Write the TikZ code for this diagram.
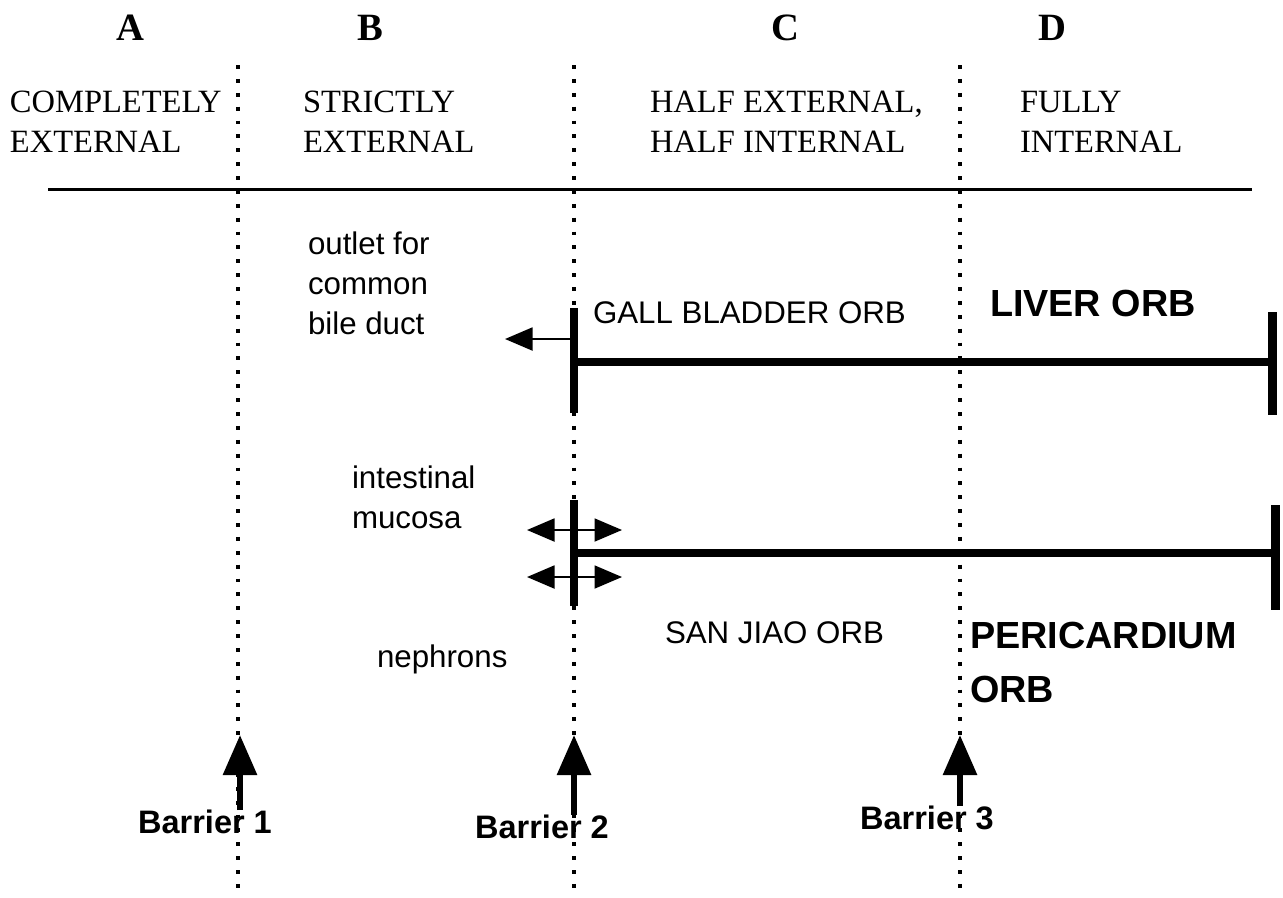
\documentclass[tikz,border=0pt]{standalone}
\usepackage{fontspec}
\setmainfont{Liberation Serif}
\setsansfont{Liberation Sans}
\usetikzlibrary{arrows.meta, positioning}

\begin{document}
\begin{tikzpicture}[
  x=0.02cm, y=-0.02cm,
  every node/.style={inner sep=0pt, outer sep=0pt},
  zone/.style={font=\fontsize{22}{26}\selectfont\bfseries},
  head/.style={align=left, anchor=north west, font=\fontsize{18.5}{22.7}\selectfont},
  note/.style={align=left, font=\sffamily\fontsize{17.8}{22.7}\selectfont},
  organ/.style={align=left, font=\sffamily\bfseries\fontsize{21.5}{30.6}\selectfont},
  barlabel/.style={font=\sffamily\bfseries\fontsize{18.5}{22}\selectfont},
  barrierline/.style={line width=2.2pt, dash pattern=on 2.2pt off 5.7pt},
  orbline/.style={line width=5.1pt},
  flow/.style={line width=1.1pt, -{Triangle[length=0.55cm, width=0.46cm]}},
  both/.style={line width=1.1pt, {Triangle[length=0.55cm, width=0.46cm]}-{Triangle[length=0.55cm, width=0.46cm]}},
  push/.style={line width=3.4pt, -{Triangle[length=0.8cm, width=0.66cm]}}
]
\useasboundingbox (0,0) rectangle (1283,897);

% Zones
\node[zone] (zA) at (130,28) {A};
\node[zone] (zB) at (370,28) {B};
\node[zone] (zC) at (785,28) {C};
\node[zone] (zD) at (1052,28) {D};

\node[head] (hA) at (10,91) {COMPLETELY\\EXTERNAL};
\node[head] (hB) at (303,91) {STRICTLY\\EXTERNAL};
\node[head] (hC) at (650,91) {HALF EXTERNAL,\\HALF INTERNAL};
\node[head] (hD) at (1020,91) {FULLY\\INTERNAL};

\coordinate (ruleL) at (48,189);
\coordinate (ruleR) at (1252,189);
\draw[line width=1.7pt] (ruleL) -- (ruleR);

% Barriers
\foreach \i/\x in {1/238, 2/574, 3/960} {
  \coordinate (top\i) at (\x,65);
  \coordinate (bot\i) at (\x,897);
  \draw[barrierline] (top\i) -- (bot\i);
}

% Gall bladder / liver
\coordinate (gbTop) at (574,308);
\coordinate (gbBot) at (574,413);
\coordinate (gbMid) at (574,362);
\coordinate (gbOut) at (574,339);
\coordinate (lvTop) at (1272,312);
\coordinate (lvBot) at (1272,415);
\coordinate (lvMid) at (1272,362);
\coordinate (duct) at (505,339);
\draw[orbline] (gbTop) -- (gbBot);
\draw[orbline] (gbMid) -- (lvMid);
\draw[orbline] (lvTop) -- (lvBot);
\draw[flow] (gbOut) -- (duct);

\node[note, anchor=north west] (outlet) at (308,232) {outlet for\\common\\bile duct};
\node[note, anchor=west] (gall) at (593,313) {GALL BLADDER ORB};
\node[organ, anchor=west] (liver) at (990,303) {LIVER ORB};

% San Jiao / pericardium
\coordinate (sjTop) at (574,500);
\coordinate (sjBot) at (574,606);
\coordinate (sjMid) at (574,553);
\coordinate (pcTop) at (1275,505);
\coordinate (pcBot) at (1275,610);
\coordinate (pcMid) at (1275,553);
\coordinate (mucL) at (527,530);
\coordinate (mucR) at (622,530);
\coordinate (nepL) at (527,577);
\coordinate (nepR) at (622,577);
\draw[orbline] (sjTop) -- (sjBot);
\draw[orbline] (sjMid) -- (pcMid);
\draw[orbline] (pcTop) -- (pcBot);
\draw[both] (mucL) -- (mucR);
\draw[both] (nepL) -- (nepR);

\node[note, anchor=north west] (mucosa) at (352,466) {intestinal\\mucosa};
\node[note, anchor=base west] (nephrons) at (377,667) {nephrons};
\node[note, anchor=west] (sanjiao) at (665,633) {SAN JIAO ORB};
\node[organ, anchor=north west] (pericard) at (970,622) {PERICARDIUM\\ORB};

% Barrier arrows
\coordinate (tip1) at (240,735);
\coordinate (tip2) at (574,735);
\coordinate (tip3) at (960,735);
\node[barlabel] (bar1) at (205,822) {Barrier 1};
\node[barlabel] (bar2) at (542,827) {Barrier 2};
\node[barlabel] (bar3) at (927,818) {Barrier 3};
\draw[push] (tip1 |- bar1.north) -- (tip1);
\draw[push] (tip2 |- bar2.north) -- (tip2);
\draw[push] (tip3 |- bar3.north) -- (tip3);

\end{tikzpicture}
\end{document}
